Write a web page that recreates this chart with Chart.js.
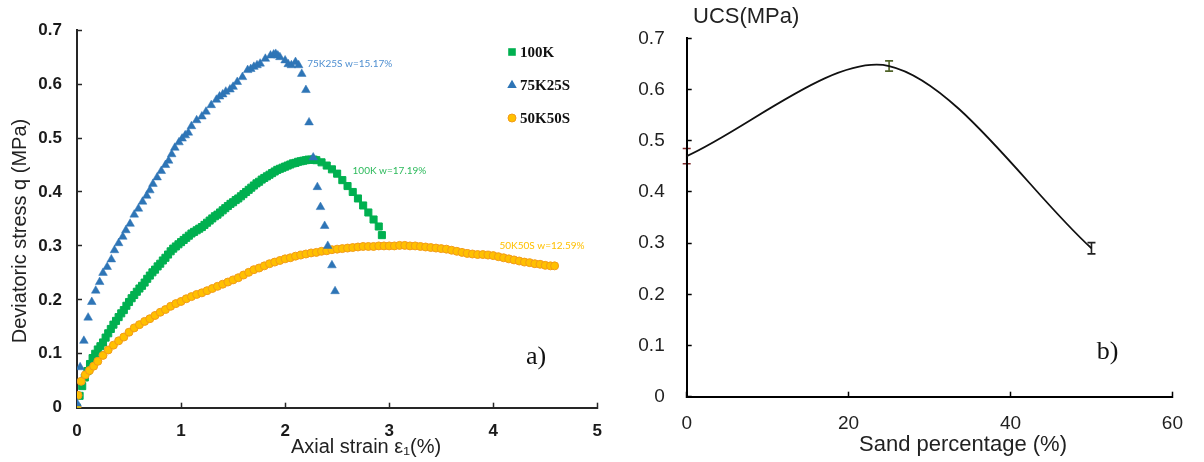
<!DOCTYPE html>
<html>
<head>
<meta charset="utf-8">
<script src="https://cdn.jsdelivr.net/npm/chart.js@4.4.1/dist/chart.umd.min.js"></script>
<style>
  html, body { margin: 0; padding: 0; background: #ffffff; }
  #wrap { position: relative; width: 1204px; height: 462px; overflow: hidden; background: #fff; }
  canvas { position: absolute; top: 0; }
  #stressChart { left: 0; }
  #ucsChart { left: 620px; }
</style>
</head>
<body>
<div id="wrap">
  <canvas id="stressChart" width="620" height="462"></canvas>
  <canvas id="ucsChart" width="584" height="462"></canvas>
</div>
<script>
// ---- (a) stress–strain curves -------------------------------------------
const seriesNames = ['100K', '75K25S', '50K50S'];
const seriesNotes = ['100K w=17.19%', '75K25S w=15.17%', '50K50S w=12.59%'];

const strain100K = [0, 0.025, 0.05, 0.075, 0.10, 0.125, 0.15, 0.175, 0.20, 0.225, 0.25, 0.275, 0.30, 0.325, 0.35,
  0.375, 0.40, 0.425, 0.45, 0.475, 0.50, 0.525, 0.55, 0.575, 0.60, 0.625, 0.65, 0.675, 0.70, 0.725, 0.75, 0.775,
  0.80, 0.825, 0.85, 0.875, 0.90, 0.925, 0.95, 0.975, 1.00, 1.025, 1.05, 1.075, 1.10, 1.125, 1.15, 1.175, 1.20,
  1.225, 1.25, 1.275, 1.30, 1.325, 1.35, 1.375, 1.40, 1.425, 1.45, 1.475, 1.50, 1.525, 1.55, 1.575, 1.60, 1.625,
  1.65, 1.675, 1.70, 1.725, 1.75, 1.775, 1.80, 1.825, 1.85, 1.875, 1.90, 1.925, 1.95, 1.975, 2.00, 2.025, 2.05,
  2.075, 2.10, 2.125, 2.15, 2.175, 2.20, 2.225, 2.25, 2.275, 2.30, 2.35, 2.40, 2.45, 2.50, 2.55, 2.60, 2.65,
  2.70, 2.75, 2.80, 2.85, 2.90, 2.93];
const stress100K = [0, 0.022, 0.040, 0.056, 0.068, 0.081, 0.092, 0.100, 0.108, 0.114, 0.121, 0.130, 0.138, 0.146,
  0.154, 0.161, 0.168, 0.175, 0.181, 0.189, 0.196, 0.203, 0.209, 0.215, 0.221, 0.226, 0.232, 0.239, 0.245, 0.251,
  0.256, 0.262, 0.267, 0.273, 0.278, 0.284, 0.290, 0.295, 0.299, 0.303, 0.307, 0.311, 0.315, 0.319, 0.323, 0.326,
  0.329, 0.332, 0.335, 0.339, 0.343, 0.347, 0.351, 0.355, 0.358, 0.362, 0.366, 0.370, 0.374, 0.378, 0.381, 0.385,
  0.388, 0.392, 0.396, 0.400, 0.404, 0.408, 0.412, 0.416, 0.419, 0.423, 0.426, 0.429, 0.432, 0.435, 0.438, 0.441,
  0.443, 0.445, 0.447, 0.449, 0.451, 0.453, 0.454, 0.456, 0.457, 0.458, 0.459, 0.460, 0.460, 0.460, 0.459, 0.455,
  0.449, 0.442, 0.434, 0.422, 0.411, 0.400, 0.388, 0.375, 0.362, 0.349, 0.336, 0.320];

const strain75K25S = [0, 0.03, 0.066, 0.107, 0.142, 0.18, 0.218, 0.25, 0.29, 0.33, 0.36, 0.40, 0.44, 0.47, 0.51,
  0.55, 0.59, 0.63, 0.67, 0.70, 0.73, 0.77, 0.81, 0.85, 0.88, 0.91, 0.94, 0.98, 1.01, 1.04, 1.07, 1.10, 1.15,
  1.20, 1.24, 1.29, 1.34, 1.37, 1.40, 1.43, 1.47, 1.50, 1.54, 1.59, 1.64, 1.67, 1.70, 1.73, 1.76, 1.81, 1.86,
  1.89, 1.91, 1.93, 1.95, 2.00, 2.03, 2.06, 2.10, 2.13, 2.16, 2.20, 2.23, 2.27, 2.31, 2.34, 2.38, 2.41, 2.45, 2.48];
const stress75K25S = [0.008, 0.075, 0.124, 0.167, 0.196, 0.217, 0.233, 0.250, 0.261, 0.275, 0.292, 0.305, 0.317,
  0.329, 0.341, 0.358, 0.369, 0.382, 0.393, 0.403, 0.415, 0.427, 0.439, 0.450, 0.458, 0.470, 0.482, 0.492, 0.499,
  0.505, 0.510, 0.522, 0.533, 0.540, 0.549, 0.561, 0.571, 0.577, 0.581, 0.586, 0.590, 0.595, 0.604, 0.613, 0.626,
  0.628, 0.632, 0.635, 0.638, 0.647, 0.653, 0.655, 0.656, 0.653, 0.650, 0.644, 0.637, 0.635, 0.641, 0.635, 0.619,
  0.589, 0.529, 0.464, 0.409, 0.372, 0.337, 0.300, 0.264, 0.216];

const strain50K50S = [0, 0.01, 0.04, 0.08, 0.12, 0.16, 0.20, 0.25, 0.30, 0.35, 0.40, 0.45, 0.50, 0.55, 0.60, 0.65,
  0.70, 0.75, 0.80, 0.85, 0.90, 0.95, 1.00, 1.05, 1.10, 1.15, 1.20, 1.25, 1.30, 1.35, 1.40, 1.45, 1.50, 1.55,
  1.60, 1.65, 1.70, 1.75, 1.80, 1.85, 1.90, 1.95, 2.00, 2.05, 2.10, 2.15, 2.20, 2.25, 2.30, 2.35, 2.40, 2.45,
  2.50, 2.55, 2.60, 2.65, 2.70, 2.75, 2.80, 2.85, 2.90, 2.95, 3.00, 3.05, 3.10, 3.15, 3.20, 3.25, 3.30, 3.35,
  3.40, 3.45, 3.50, 3.55, 3.60, 3.65, 3.70, 3.75, 3.80, 3.85, 3.90, 3.95, 4.00, 4.05, 4.10, 4.15, 4.20, 4.25,
  4.30, 4.35, 4.40, 4.45, 4.50, 4.55, 4.59];
const stress50K50S = [0, 0.023, 0.049, 0.061, 0.069, 0.077, 0.086, 0.097, 0.107, 0.116, 0.124, 0.131, 0.140, 0.148,
  0.154, 0.160, 0.165, 0.171, 0.177, 0.182, 0.188, 0.193, 0.197, 0.202, 0.206, 0.210, 0.213, 0.217, 0.221, 0.225,
  0.229, 0.233, 0.237, 0.241, 0.246, 0.251, 0.256, 0.259, 0.263, 0.267, 0.270, 0.273, 0.276, 0.278, 0.281, 0.283,
  0.285, 0.287, 0.288, 0.290, 0.291, 0.293, 0.294, 0.295, 0.296, 0.297, 0.298, 0.299, 0.299, 0.299, 0.300, 0.300,
  0.300, 0.300, 0.301, 0.301, 0.300, 0.300, 0.299, 0.298, 0.297, 0.296, 0.295, 0.294, 0.292, 0.290, 0.288, 0.286,
  0.285, 0.284, 0.284, 0.283, 0.282, 0.280, 0.278, 0.276, 0.274, 0.272, 0.270, 0.269, 0.267, 0.266, 0.264, 0.263,
  0.263];

const strainTicks = [0, 1, 2, 3, 4, 5];
const stressTicks = [0, 0.1, 0.2, 0.3, 0.4, 0.5, 0.6, 0.7];

// ---- (b) UCS vs sand content --------------------------------------------
const sandPct = [0, 25, 50];
const ucsMean = [0.47, 0.646, 0.29];
const ucsErr = [0.015, 0.01, 0.011];
const sandTicks = [0, 20, 40, 60];
const ucsTicks = [0, 0.1, 0.2, 0.3, 0.4, 0.5, 0.6, 0.7];

// ---- styling --------------------------------------------------------------
const GREEN = '#00B050', BLUE = '#2E75B6', GOLD = '#FFC000';
const SANS = "'Liberation Sans', Arial, sans-serif";
const SERIF = "'Liberation Serif', 'Times New Roman', serif";
const NOTE_FONT = "10px Lato, 'Open Sans', sans-serif";

const toPoints = (xs, ys) => xs.map((x, i) => ({ x, y: ys[i] }));
const fixedTicks = arr => scale => { scale.ticks = arr.map(v => ({ value: v })); };

// free text drawn on top of a chart: axis titles, panel letters
const textItems = {
  id: 'textItems',
  afterDraw(chart, args, opts) {
    const ctx = chart.ctx;
    (opts.items || []).forEach(t => {
      ctx.save();
      ctx.font = t.font;
      ctx.fillStyle = t.color || '#222';
      ctx.textAlign = t.align || 'center';
      ctx.textBaseline = 'middle';
      ctx.translate(t.x, t.y);
      if (t.rotate) ctx.rotate(t.rotate);
      ctx.fillText(t.text, 0, 0);
      ctx.restore();
    });
  }
};

// notes next to each curve, anchored in data coordinates
const curveNotes = {
  id: 'curveNotes',
  afterDatasetsDraw(chart, args, opts) {
    const { ctx, scales: { x, y } } = chart;
    ctx.save();
    ctx.font = NOTE_FONT;
    ctx.textAlign = 'left';
    ctx.textBaseline = 'middle';
    (opts.items || []).forEach(n => {
      ctx.fillStyle = n.color;
      ctx.fillText(n.text, x.getPixelForValue(n.at[0]), y.getPixelForValue(n.at[1]));
    });
    ctx.restore();
  }
};

// marker legend placed inside the plot
function drawMarker(ctx, style, cx, cy, r, fill, stroke) {
  ctx.beginPath();
  if (style === 'rect') {
    ctx.rect(cx - r, cy - r, 2 * r, 2 * r);
  } else if (style === 'triangle') {
    ctx.moveTo(cx, cy - r * 1.05);
    ctx.lineTo(cx + r * 0.95, cy + r * 0.6);
    ctx.lineTo(cx - r * 0.95, cy + r * 0.6);
    ctx.closePath();
  } else {
    ctx.arc(cx, cy, r, 0, Math.PI * 2);
  }
  ctx.fillStyle = fill;
  ctx.fill();
  if (stroke) { ctx.strokeStyle = stroke; ctx.lineWidth = 1; ctx.stroke(); }
}
const markerLegend = {
  id: 'markerLegend',
  afterDraw(chart, args, opts) {
    const ctx = chart.ctx;
    ctx.save();
    ctx.font = 'bold 15px ' + SERIF;
    ctx.textBaseline = 'middle';
    ctx.textAlign = 'left';
    chart.data.datasets.forEach((ds, i) => {
      const y = opts.top + i * opts.step;
      drawMarker(ctx, ds.pointStyle, opts.x, y, opts.size[i], ds.backgroundColor,
        ds.pointStyle === 'circle' ? ds.borderColor : null);
      ctx.fillStyle = '#111';
      ctx.fillText(ds.label, opts.x + 8, y + 1);
    });
    ctx.restore();
  }
};

// error bars under the UCS curve
const errorBars = {
  id: 'errorBars',
  beforeDraw(chart, args, opts) {
    const { ctx, scales: { x, y } } = chart;
    ctx.save();
    ctx.lineWidth = 1.6;
    sandPct.forEach((p, i) => {
      const px = x.getPixelForValue(p);
      const top = y.getPixelForValue(ucsMean[i] + ucsErr[i]);
      const bot = y.getPixelForValue(ucsMean[i] - ucsErr[i]);
      ctx.strokeStyle = opts.colors[i];
      ctx.beginPath();
      ctx.moveTo(px, top); ctx.lineTo(px, bot);
      ctx.moveTo(px - 4, top); ctx.lineTo(px + 4, top);
      ctx.moveTo(px - 4, bot); ctx.lineTo(px + 4, bot);
      ctx.stroke();
    });
    ctx.restore();
  }
};

function axisOptions(opt) {
  return {
    type: 'linear',
    min: opt.min, max: opt.max,
    afterBuildTicks: fixedTicks(opt.ticks),
    afterFit: opt.fit,
    border: { display: true, color: opt.color, width: 2 },
    grid: { drawOnChartArea: false, drawTicks: true, tickLength: -5, tickColor: opt.color, tickWidth: 1.5 },
    ticks: {
      autoSkip: false, maxRotation: 0, padding: opt.pad, color: opt.labelColor,
      font: opt.font, callback: v => String(v)
    }
  };
}

Chart.defaults.animation = false;
Chart.defaults.events = [];

// ---- panel (a) -------------------------------------------------------------
new Chart(document.getElementById('stressChart'), {
  type: 'scatter',
  data: {
    datasets: [
      { label: seriesNames[0], data: toPoints(strain100K, stress100K), pointStyle: 'rect',
        pointRadius: 5, backgroundColor: GREEN, borderColor: GREEN, borderWidth: 1, order: 2 },
      { label: seriesNames[1], data: toPoints(strain75K25S, stress75K25S), pointStyle: 'triangle',
        pointRadius: 5, backgroundColor: BLUE, borderColor: BLUE, borderWidth: 0.5, order: 0 },
      { label: seriesNames[2], data: toPoints(strain50K50S, stress50K50S), pointStyle: 'circle',
        pointRadius: 4, backgroundColor: GOLD, borderColor: '#F29B1A', borderWidth: 1, order: 1 }
    ]
  },
  options: {
    responsive: false,
    devicePixelRatio: 1,
    layout: { padding: { top: 25.5, right: 15, bottom: 0, left: 0 } },
    scales: {
      x: axisOptions({ min: 0, max: 5, ticks: strainTicks, color: '#262626', labelColor: '#1a1a1a', pad: 18,
        font: { family: SANS, size: 17, weight: 'bold' }, fit: s => { s.height = 54.3; } }),
      y: axisOptions({ min: 0, max: 0.7, ticks: stressTicks, color: '#262626', labelColor: '#1a1a1a', pad: 20,
        font: { family: SANS, size: 17, weight: 'bold' }, fit: s => { s.width = 77; } })
    },
    plugins: {
      legend: { display: false },
      tooltip: { enabled: false },
      curveNotes: { items: [
        { text: seriesNotes[1], color: '#4F8FD0', at: [2.213, 0.638] },
        { text: seriesNotes[0], color: '#2DBA5C', at: [2.648, 0.439] },
        { text: seriesNotes[2], color: '#FFC000', at: [4.06, 0.300] }
      ] },
      markerLegend: { x: 512, top: 52, step: 33, size: [3.8, 5, 4] },
      textItems: { items: [
        { text: 'Deviatoric stress q (MPa)', x: 20, y: 231, rotate: -Math.PI / 2, font: '20px ' + SANS, color: '#222' },
        { text: 'Axial strain \u03b5\u2081(%)', x: 366, y: 447, font: '20px ' + SANS, color: '#222' },
        { text: 'a)', x: 536, y: 357, font: '26px ' + SERIF, color: '#111' }
      ] }
    }
  },
  plugins: [curveNotes, markerLegend, textItems]
});

// ---- panel (b) -------------------------------------------------------------
new Chart(document.getElementById('ucsChart'), {
  type: 'line',
  data: {
    datasets: [
      { label: 'UCS', data: toPoints(sandPct, ucsMean), borderColor: '#111', borderWidth: 1.8,
        tension: 0.3, pointRadius: 0, fill: false }
    ]
  },
  options: {
    responsive: false,
    devicePixelRatio: 1,
    layout: { padding: { top: 32, right: 15.3, bottom: 0, left: 0 } },
    scales: {
      x: axisOptions({ min: 0, max: 60, ticks: sandTicks, color: '#000', labelColor: '#222', pad: 21,
        font: { family: SANS, size: 19 }, fit: s => { s.height = 65.3; } }),
      y: axisOptions({ min: 0, max: 0.7, ticks: ucsTicks, color: '#000', labelColor: '#222', pad: 27,
        font: { family: SANS, size: 19 }, fit: s => { s.width = 66.7; } })
    },
    plugins: {
      legend: { display: false },
      tooltip: { enabled: false },
      errorBars: { colors: ['#7F2A2A', '#4F6228', '#222'] },
      textItems: { items: [
        { text: 'UCS(MPa)', x: 73, y: 17, align: 'left', font: '22px ' + SANS, color: '#222' },
        { text: 'Sand percentage (%)', x: 343, y: 445, font: '22px ' + SANS, color: '#222' },
        { text: 'b)', x: 487.5, y: 352, font: '26px ' + SERIF, color: '#111' }
      ] }
    }
  },
  plugins: [errorBars, textItems]
});
</script>
</body>
</html>
